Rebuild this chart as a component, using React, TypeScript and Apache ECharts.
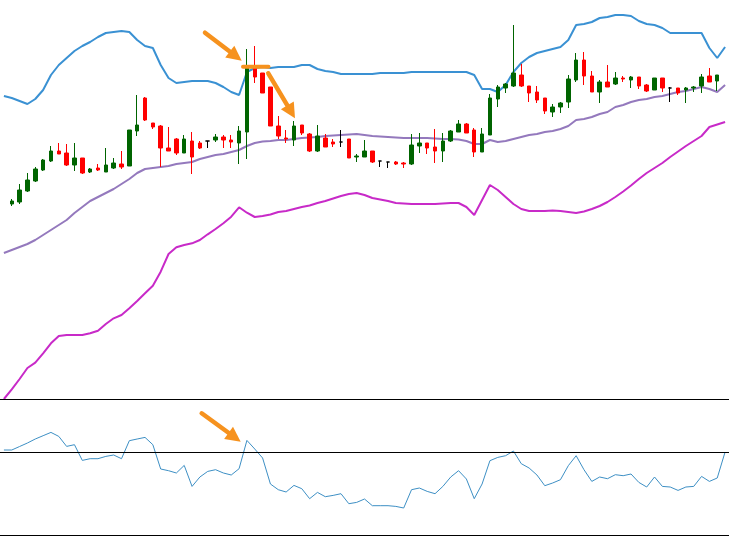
import React, { useEffect, useRef } from "react";
import * as echarts from "echarts";

// Price series (arbitrary points), index 0 and 92 are off-screen edge slots
const opens = [null,196,198,209,219,230,239,249,247,235,242,228,232,228,232,236,234,269,302,277,274,252,261,247,259,257,259,260,263,260,257,268,332,327,313,274,262,260,275,266,249,262,258,258,261,243,243,249,239,238,238,237,236,254,257,253,249,259,268,276,270,248,265,301,312,314,325,314,308,302,288,293,298,320,340,324,308,318,316,322,320,323,315,310,322,312,312,310,312,314,324,319,null];
const closes = [null,199,210,220,231,240,249,246,235,242,227,231,230,235,237,233,270,275,280,273,252,249,247,261,243,252,259,263,260,258,269,333,323,307,274,264,261,274,267,249,264,253,256,258,242,244,249,238,239,238,236,236,255,257,252,249,259,269,276,267,248,266,302,313,316,327,314,307,300,289,293,297,321,340,324,308,318,313,322,321,323,314,309,322,312,312,307,312,313,323,318,325,null];
const lows = [null,194,196,208,218,229,238,246,234,229,226,227,229,228,231,231,234,264,279,271,233,249,245,247,226,251,252,258,252,252,236,241,317,307,274,261,257,254,265,248,248,253,253,253,242,238,243,237,233,232,235,232,235,247,246,237,238,258,268,267,243,248,265,293,307,313,313,298,297,286,283,287,292,318,315,308,297,313,315,318,312,311,308,310,308,298,305,297,308,307,318,309,null];
const highs = [null,201,216,227,233,241,254,257,256,257,242,232,236,252,242,249,270,305,303,277,275,273,262,265,268,259,259,266,265,265,274,351,354,327,313,284,270,279,275,267,275,266,261,270,261,246,260,249,239,238,239,238,266,267,257,271,267,270,280,277,272,272,306,315,317,375,336,314,314,302,296,298,325,347,348,329,320,335,328,324,324,323,316,322,322,313,312,313,314,326,332,325,null];

// Bollinger bands
const upperBand = [304,302,299,296,301,310,325,335,342,349,354,358,363,367,368,369,368,360,354,352,335,322,317,318,319,319,319,317,313,308,305,328,332,333,332,333,333,333,335,335,331,329,328,326,326,326,326,326,327,327,327,327,328,328,328,328,328,328,328,328,325,311,311,308,315,328,337,343,347,349,351,353,360,375,376,378,382,383,385,385,384,379,376,375,372,367,367,367,367,367,352,342,353];
const middleBand = [147,150,153,156,160,165,170,175,180,187,193,199,203,207,211,216,221,227,231,232,233,234,236,237,238,241,243,245,246,248,250,254,257,258.5,259,260,260,261,262,262.5,263,264,264.5,265,265.5,266,265,264,263.5,263,262.5,262,262,262,262,261.5,261,261,260.5,259,256,256,260,258,259,261,263,265,266,268,269,271,274,280,281,283,286,288,293,295,298,300,301,303,304,306,308,309,311,313,311,308,315];
const lowerBand = [1,10.7,21,32,37.3,46.7,56.7,64,65,65,65,66.7,69.3,76,81.7,85,91.7,99,106.7,114.3,128.3,146,152.7,155,156.7,160,165.7,171,176.7,183.3,192.7,187.3,183,184,185.5,188,189,191,193,194.5,197,199,201.5,204,206,207,205,202,200.5,199,197,196.5,196,196,196,196,196.5,197,197,193,185,200,215,210,203,196,191,189,189,189,189.5,189,188,187,188.5,191,194,198,203,208.5,214.5,221,227,232,237,243,248.5,254,259,264,273,275.5,278];

// Oscillator (lower panel) and its reference levels
const oscillator = [2,2,5.5,9,13,16.3,19.6,15.6,5.6,7.3,-8.4,-6.7,-6.7,-4.4,-3,-6.7,11.3,13,14.6,7.3,-17,-18.7,-21,-13.4,-34.4,-25,-19.4,-17.7,-21,-23,-16.7,11.6,3,-6,-32,-37.7,-40,-33.4,-36.7,-46.7,-40.4,-44.7,-43.4,-41.7,-51.7,-50.4,-47,-53.7,-53.7,-53.7,-54.4,-56,-37.7,-36,-39.4,-41.7,-34.4,-25,-18.7,-27,-46.7,-32,-8.7,-5.4,-3.7,1,-11.7,-16,-23,-33.7,-31,-27.7,-13.7,-3.7,-17.7,-29.4,-25,-26.7,-22.7,-23.7,-22,-30.4,-35,-25,-34.4,-35,-38.4,-35,-34.4,-24.4,-29.4,-26,0];
const oscLevels = [53, 0, -83];

const categories = upperBand.map((_, i) => String(i));

const ORANGE = "#f6921e";

function arrow(x1: number, y1: number, x2: number, y2: number): any[] {
  const dx = x2 - x1, dy = y2 - y1;
  const L = Math.hypot(dx, dy);
  const ux = dx / L, uy = dy / L;
  const headLen = 15, half = 7.5;
  const bx = x2 - ux * headLen, by = y2 - uy * headLen;
  const px = -uy, py = ux;
  return [
    {
      type: "line",
      z: 100,
      shape: { x1, y1, x2: bx + ux * 2, y2: by + uy * 2 },
      style: { stroke: ORANGE, lineWidth: 4.5, lineCap: "round" },
      silent: true,
    },
    {
      type: "polygon",
      z: 100,
      shape: {
        points: [
          [x2, y2],
          [bx + px * half, by + py * half],
          [bx - px * half, by - py * half],
        ],
      },
      style: { fill: ORANGE },
      silent: true,
    },
  ];
}

export default function App() {
  const ref = useRef<HTMLDivElement>(null);
  useEffect(() => {
    if (!ref.current) return;
    const chart = echarts.init(ref.current, undefined, { renderer: "svg" });
    const candleData = opens.map((o, i) =>
      o === null ? "-" : [o, closes[i], lows[i], highs[i]]
    );
    const hiddenAxis = {
      axisLine: { show: false },
      axisTick: { show: false },
      axisLabel: { show: false },
      splitLine: { show: false },
    };
    chart.setOption({
      animation: false,
      backgroundColor: "#ffffff",
      grid: [
        { left: -7.7, width: 744, top: 0, height: 400 },
        { left: -7.7, width: 744, top: 399, height: 136 },
      ],
      xAxis: [
        { type: "category", gridIndex: 0, data: categories, boundaryGap: true, ...hiddenAxis },
        { type: "category", gridIndex: 1, data: categories, boundaryGap: true, ...hiddenAxis },
      ],
      yAxis: [
        { type: "value", gridIndex: 0, min: 0, max: 400, ...hiddenAxis },
        { type: "value", gridIndex: 1, min: -83, max: 53, ...hiddenAxis },
      ],
      series: [
        {
          type: "line",
          name: "Upper",
          data: upperBand,
          xAxisIndex: 0,
          yAxisIndex: 0,
          symbol: "none",
          lineStyle: { color: "#3a91d3", width: 2 },
          z: 1,
        },
        {
          type: "line",
          name: "Middle",
          data: middleBand,
          xAxisIndex: 0,
          yAxisIndex: 0,
          symbol: "none",
          lineStyle: { color: "#9479bd", width: 2 },
          z: 1,
        },
        {
          type: "line",
          name: "Lower",
          data: lowerBand,
          xAxisIndex: 0,
          yAxisIndex: 0,
          symbol: "none",
          lineStyle: { color: "#c82ac8", width: 2 },
          z: 1,
        },
        {
          type: "candlestick",
          name: "Price",
          data: candleData,
          xAxisIndex: 0,
          yAxisIndex: 0,
          barWidth: 4,
          z: 3,
          itemStyle: {
            color: "#006400",
            color0: "#ff0000",
            borderColor: "#006400",
            borderColor0: "#ff0000",
            borderColorDoji: "#000000",
            borderWidth: 1,
          },
        },
        {
          type: "line",
          name: "Oscillator",
          data: oscillator,
          xAxisIndex: 1,
          yAxisIndex: 1,
          symbol: "none",
          lineStyle: { color: "#3d8fc4", width: 1 },
          markLine: {
            silent: true,
            symbol: ["none", "none"],
            label: { show: false },
            lineStyle: { color: "#000000", width: 1.2, type: "solid" },
            data: oscLevels.map((v) => ({ yAxis: v })),
          },
        },
      ],
      graphic: [
        ...arrow(205, 32.7, 241.7, 60.7),
        {
          type: "line",
          z: 100,
          shape: { x1: 243, y1: 66.7, x2: 268.5, y2: 66.7 },
          style: { stroke: ORANGE, lineWidth: 4, lineCap: "round" },
          silent: true,
        },
        ...arrow(268.3, 73.3, 295, 118.3),
        ...arrow(201.7, 413.3, 240.7, 441.7),
      ],
    });
    return () => chart.dispose();
  }, []);
  return (
    <div
      ref={ref}
      style={{ position: "fixed", left: 0, top: 0, width: 729, height: 552, background: "#fff" }}
    />
  );
}
